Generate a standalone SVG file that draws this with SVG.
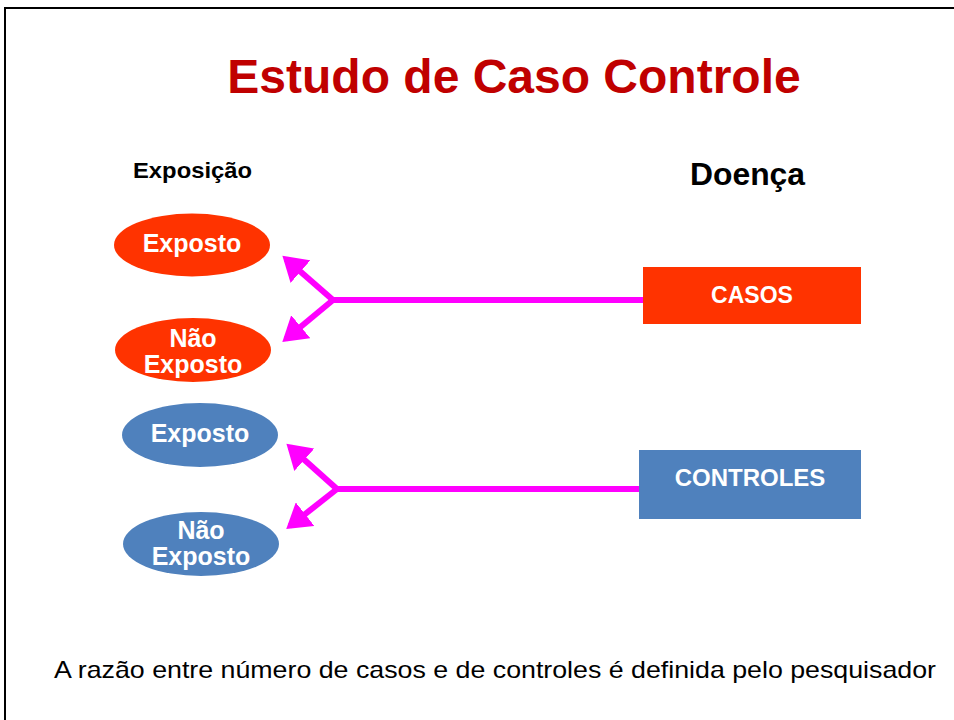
<svg xmlns="http://www.w3.org/2000/svg" width="954" height="720" viewBox="0 0 954 720">
<style>
.b{font-family:"Liberation Sans",Arial,sans-serif;font-weight:bold}
.w{fill:#fff;text-anchor:middle}
.c{stroke:#FF00FF;stroke-width:6;fill:none}
</style>
<defs>
<marker id="ah" markerWidth="5" markerHeight="5" refX="3.2" refY="2.5" orient="auto" markerUnits="strokeWidth">
<path d="M0,0 L4,2.5 L0,5 Z" fill="#FF00FF"/>
</marker>
</defs>
<rect x="0" y="0" width="954" height="720" fill="#fff"/>
<path d="M5,720 V8 H954" fill="none" stroke="#000" stroke-width="2"/>
<text x="514" y="93" class="b" font-size="48" fill="#C00000" text-anchor="middle">Estudo de Caso Controle</text>
<text x="133" y="178" class="b" font-size="22" textLength="119" lengthAdjust="spacingAndGlyphs">Exposição</text>
<text x="690" y="185" class="b" font-size="31" textLength="115" lengthAdjust="spacingAndGlyphs">Doença</text>
<g id="connectors">
<path class="c" d="M643,300 H333"/>
<path class="c" d="M333,300 L286,259" marker-end="url(#ah)"/>
<path class="c" d="M333,300 L286,339" marker-end="url(#ah)"/>
<path class="c" d="M639,489 H337"/>
<path class="c" d="M337,489 L290,447" marker-end="url(#ah)"/>
<path class="c" d="M337,489 L290,526" marker-end="url(#ah)"/>
</g>
<g id="exposto1"><ellipse cx="192" cy="245" rx="78" ry="31.5" fill="#FF3300"/><text x="192" y="252" class="b w" font-size="25">Exposto</text></g>
<g id="naoexposto1"><ellipse cx="193" cy="350" rx="78" ry="32" fill="#FF3300"/><text x="193" y="347" class="b w" font-size="25">Não</text><text x="193" y="373" class="b w" font-size="25">Exposto</text></g>
<g id="exposto2"><ellipse cx="200" cy="435" rx="78" ry="32" fill="#4F81BD"/><text x="200" y="442" class="b w" font-size="25">Exposto</text></g>
<g id="naoexposto2"><ellipse cx="201" cy="544" rx="78" ry="32" fill="#4F81BD"/><text x="201" y="539" class="b w" font-size="25">Não</text><text x="201" y="565" class="b w" font-size="25">Exposto</text></g>
<g id="casos"><rect x="643" y="267" width="218" height="57" fill="#FF3300"/><text x="752" y="303" class="b w" font-size="23">CASOS</text></g>
<g id="controles"><rect x="639" y="450" width="222" height="69" fill="#4F81BD"/><text x="750" y="486" class="b w" font-size="24">CONTROLES</text></g>
<text x="54" y="678" font-family="'Liberation Sans',Arial,sans-serif" font-size="24" textLength="882" lengthAdjust="spacingAndGlyphs">A razão entre número de casos e de controles é definida pelo pesquisador</text>
</svg>
